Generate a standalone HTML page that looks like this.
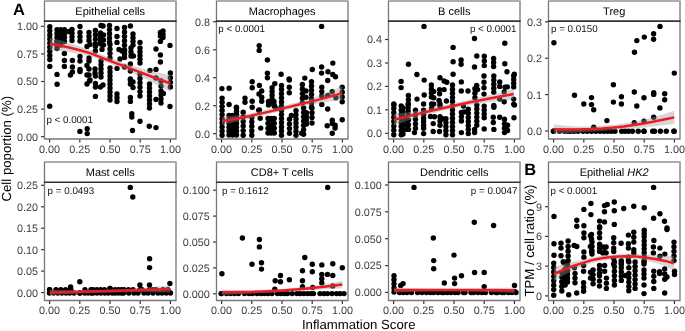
<!DOCTYPE html><html><head><meta charset="utf-8"><style>html,body{margin:0;padding:0;background:#fff;}svg{display:block;will-change:transform;}text{font-family:"Liberation Sans",sans-serif;text-rendering:geometricPrecision;}</style></head><body>
<svg width="685" height="331" viewBox="0 0 685 331" xmlns="http://www.w3.org/2000/svg">
<rect width="685" height="331" fill="#fff"/>
<text x="110.2" y="15.3" font-size="11" text-anchor="middle" fill="#000">Epithelial cells</text>
<g fill="#000"><circle cx="49.8" cy="26.70" r="2.7"/><circle cx="49.8" cy="30.80" r="2.7"/><circle cx="49.8" cy="34.90" r="2.7"/><circle cx="49.8" cy="39.00" r="2.7"/><circle cx="49.8" cy="43.10" r="2.7"/><circle cx="49.8" cy="47.20" r="2.7"/><circle cx="49.8" cy="51.30" r="2.7"/><circle cx="49.8" cy="55.40" r="2.7"/><circle cx="49.8" cy="59.50" r="2.7"/><circle cx="49.8" cy="66.4" r="2.7"/><rect x="57.00" y="29.70" width="7.50" height="11.80"/><circle cx="57.00" cy="29.70" r="2.7"/><circle cx="57.00" cy="33.63" r="2.7"/><circle cx="57.00" cy="37.57" r="2.7"/><circle cx="57.00" cy="41.50" r="2.7"/><circle cx="60.75" cy="29.70" r="2.7"/><circle cx="60.75" cy="41.50" r="2.7"/><circle cx="64.50" cy="29.70" r="2.7"/><circle cx="64.50" cy="33.63" r="2.7"/><circle cx="64.50" cy="37.57" r="2.7"/><circle cx="64.50" cy="41.50" r="2.7"/><circle cx="57.0" cy="41.50" r="2.7"/><circle cx="57.0" cy="45.00" r="2.7"/><circle cx="57.0" cy="48.50" r="2.7"/><circle cx="60.8" cy="41.50" r="2.7"/><circle cx="60.8" cy="45.00" r="2.7"/><circle cx="72.0" cy="29.50" r="2.7"/><circle cx="72.0" cy="33.17" r="2.7"/><circle cx="72.0" cy="36.83" r="2.7"/><circle cx="72.0" cy="40.50" r="2.7"/><circle cx="69.0" cy="31.5" r="2.7"/><circle cx="64.4" cy="53.5" r="2.7"/><circle cx="64.4" cy="60.50" r="2.7"/><circle cx="64.4" cy="66.40" r="2.7"/><circle cx="72.4" cy="60.5" r="2.7"/><circle cx="72.4" cy="67.00" r="2.7"/><circle cx="72.4" cy="72.00" r="2.7"/><circle cx="70.4" cy="75.0" r="2.7"/><circle cx="57.0" cy="74.4" r="2.7"/><circle cx="57.1" cy="84.2" r="2.7"/><circle cx="80.0" cy="26.5" r="2.7"/><circle cx="80.0" cy="32.50" r="2.7"/><circle cx="80.0" cy="36.75" r="2.7"/><circle cx="80.0" cy="41.00" r="2.7"/><circle cx="89.0" cy="32.50" r="2.7"/><circle cx="89.0" cy="36.45" r="2.7"/><circle cx="89.0" cy="40.40" r="2.7"/><circle cx="87.0" cy="46.4" r="2.7"/><circle cx="90.0" cy="44.4" r="2.7"/><circle cx="95.4" cy="30.50" r="2.7"/><circle cx="95.4" cy="34.80" r="2.7"/><circle cx="95.4" cy="39.10" r="2.7"/><circle cx="95.4" cy="43.40" r="2.7"/><circle cx="95.4" cy="46.40" r="2.7"/><circle cx="95.4" cy="51.00" r="2.7"/><circle cx="101.0" cy="25.5" r="2.7"/><circle cx="103.0" cy="26.0" r="2.7"/><circle cx="100.5" cy="33.00" r="2.7"/><circle cx="100.5" cy="36.67" r="2.7"/><circle cx="100.5" cy="40.33" r="2.7"/><circle cx="100.5" cy="44.00" r="2.7"/><circle cx="103.5" cy="35.00" r="2.7"/><circle cx="103.5" cy="40.00" r="2.7"/><circle cx="103.5" cy="45.00" r="2.7"/><circle cx="102.0" cy="49.4" r="2.7"/><circle cx="109.5" cy="25.50" r="2.7"/><circle cx="109.5" cy="29.62" r="2.7"/><circle cx="109.5" cy="33.75" r="2.7"/><circle cx="109.5" cy="37.88" r="2.7"/><circle cx="109.5" cy="42.00" r="2.7"/><circle cx="110.0" cy="44.40" r="2.7"/><circle cx="110.0" cy="48.93" r="2.7"/><circle cx="110.0" cy="53.47" r="2.7"/><circle cx="110.0" cy="58.00" r="2.7"/><circle cx="110.0" cy="68.00" r="2.7"/><circle cx="110.0" cy="72.00" r="2.7"/><circle cx="110.0" cy="76.00" r="2.7"/><circle cx="110.0" cy="80.00" r="2.7"/><circle cx="110.0" cy="84.00" r="2.7"/><circle cx="110.0" cy="88.00" r="2.7"/><circle cx="110.0" cy="92.00" r="2.7"/><circle cx="110.0" cy="96.00" r="2.7"/><circle cx="110.0" cy="100.00" r="2.7"/><circle cx="117.0" cy="28.5" r="2.7"/><circle cx="117.0" cy="36.50" r="2.7"/><circle cx="117.0" cy="42.40" r="2.7"/><circle cx="119.0" cy="49.5" r="2.7"/><circle cx="122.0" cy="51.0" r="2.7"/><circle cx="124.5" cy="51.0" r="2.7"/><circle cx="120.0" cy="59.0" r="2.7"/><circle cx="124.5" cy="57.5" r="2.7"/><circle cx="124.5" cy="27.50" r="2.7"/><circle cx="124.5" cy="31.92" r="2.7"/><circle cx="124.5" cy="36.33" r="2.7"/><circle cx="124.5" cy="40.75" r="2.7"/><circle cx="124.5" cy="45.17" r="2.7"/><circle cx="124.5" cy="49.58" r="2.7"/><circle cx="124.5" cy="54.00" r="2.7"/><circle cx="130.4" cy="26.0" r="2.7"/><circle cx="133.0" cy="34.00" r="2.7"/><circle cx="133.0" cy="37.67" r="2.7"/><circle cx="133.0" cy="41.33" r="2.7"/><circle cx="133.0" cy="45.00" r="2.7"/><circle cx="140.0" cy="42.4" r="2.7"/><circle cx="131.0" cy="48.00" r="2.7"/><circle cx="131.0" cy="52.00" r="2.7"/><circle cx="131.0" cy="56.00" r="2.7"/><circle cx="133.4" cy="56.0" r="2.7"/><circle cx="140.0" cy="48.00" r="2.7"/><circle cx="140.0" cy="51.75" r="2.7"/><circle cx="140.0" cy="55.50" r="2.7"/><circle cx="140.0" cy="59.25" r="2.7"/><circle cx="140.0" cy="63.00" r="2.7"/><circle cx="117.0" cy="68.4" r="2.7"/><circle cx="124.5" cy="67.0" r="2.7"/><circle cx="130.4" cy="64.0" r="2.7"/><circle cx="130.4" cy="71.0" r="2.7"/><circle cx="140.0" cy="74.00" r="2.7"/><circle cx="140.0" cy="78.40" r="2.7"/><circle cx="140.0" cy="82.80" r="2.7"/><circle cx="140.0" cy="87.20" r="2.7"/><circle cx="140.0" cy="91.60" r="2.7"/><circle cx="140.0" cy="96.00" r="2.7"/><circle cx="130.4" cy="79.0" r="2.7"/><circle cx="163.0" cy="31.0" r="2.7"/><circle cx="160.4" cy="32.5" r="2.7"/><circle cx="163.0" cy="34.5" r="2.7"/><circle cx="160.4" cy="36.0" r="2.7"/><circle cx="163.0" cy="37.5" r="2.7"/><circle cx="160.4" cy="41.4" r="2.7"/><circle cx="170.0" cy="45.4" r="2.7"/><circle cx="156.0" cy="49.0" r="2.7"/><circle cx="160.4" cy="55.0" r="2.7"/><circle cx="160.4" cy="62.0" r="2.7"/><circle cx="150.0" cy="70.4" r="2.7"/><circle cx="156.0" cy="69.4" r="2.7"/><circle cx="170.4" cy="73.00" r="2.7"/><circle cx="170.4" cy="77.67" r="2.7"/><circle cx="170.4" cy="82.33" r="2.7"/><circle cx="170.4" cy="87.00" r="2.7"/><circle cx="156.0" cy="78.0" r="2.7"/><circle cx="80.0" cy="56.50" r="2.7"/><circle cx="80.0" cy="61.00" r="2.7"/><circle cx="80.0" cy="69.50" r="2.7"/><circle cx="80.0" cy="71.50" r="2.7"/><circle cx="89.0" cy="58.00" r="2.7"/><circle cx="89.0" cy="61.00" r="2.7"/><circle cx="87.0" cy="65.5" r="2.7"/><circle cx="89.0" cy="69.00" r="2.7"/><circle cx="89.0" cy="75.00" r="2.7"/><circle cx="87.0" cy="75.0" r="2.7"/><circle cx="95.0" cy="69.00" r="2.7"/><circle cx="95.0" cy="73.00" r="2.7"/><circle cx="101.0" cy="61.00" r="2.7"/><circle cx="101.0" cy="65.00" r="2.7"/><circle cx="101.0" cy="69.00" r="2.7"/><circle cx="101.0" cy="73.00" r="2.7"/><circle cx="101.0" cy="77.00" r="2.7"/><circle cx="90.0" cy="80.0" r="2.7"/><circle cx="89.5" cy="81.0" r="2.7"/><circle cx="87.0" cy="84.0" r="2.7"/><circle cx="95.4" cy="76.0" r="2.7"/><circle cx="95.4" cy="83.50" r="2.7"/><circle cx="95.4" cy="87.00" r="2.7"/><circle cx="100.4" cy="87.0" r="2.7"/><circle cx="103.0" cy="85.0" r="2.7"/><circle cx="95.4" cy="96.4" r="2.7"/><circle cx="117.0" cy="94.00" r="2.7"/><circle cx="117.0" cy="97.75" r="2.7"/><circle cx="117.0" cy="101.50" r="2.7"/><circle cx="130.4" cy="80.0" r="2.7"/><circle cx="133.0" cy="82.0" r="2.7"/><circle cx="130.4" cy="84.0" r="2.7"/><circle cx="133.0" cy="87.5" r="2.7"/><circle cx="130.4" cy="97.40" r="2.7"/><circle cx="130.4" cy="101.40" r="2.7"/><circle cx="149.5" cy="84.00" r="2.7"/><circle cx="149.5" cy="88.00" r="2.7"/><circle cx="149.5" cy="92.00" r="2.7"/><circle cx="149.5" cy="96.00" r="2.7"/><circle cx="149.5" cy="100.00" r="2.7"/><circle cx="149.5" cy="104.00" r="2.7"/><circle cx="149.5" cy="108.00" r="2.7"/><circle cx="161.0" cy="81.00" r="2.7"/><circle cx="161.0" cy="86.00" r="2.7"/><circle cx="161.0" cy="91.00" r="2.7"/><circle cx="161.0" cy="95.00" r="2.7"/><circle cx="161.0" cy="99.00" r="2.7"/><circle cx="161.0" cy="103.00" r="2.7"/><circle cx="163.4" cy="93.4" r="2.7"/><circle cx="156.0" cy="99.4" r="2.7"/><circle cx="170.0" cy="106.5" r="2.7"/><circle cx="49.7" cy="106.2" r="2.7"/><circle cx="131.8" cy="113.8" r="2.7"/><circle cx="131.8" cy="117.0" r="2.7"/><circle cx="132.5" cy="130.5" r="2.7"/><circle cx="79.9" cy="131.4" r="2.7"/><circle cx="87.2" cy="128.7" r="2.7"/><circle cx="87.2" cy="133.6" r="2.7"/><circle cx="140.0" cy="121.3" r="2.7"/><circle cx="149.3" cy="126.3" r="2.7"/><circle cx="156.0" cy="127.6" r="2.7"/></g>
<path d="M49.8,37.7 L60.0,40.3 L70.0,43.2 L80.0,46.5 L90.0,49.9 L110.0,57.8 L130.0,65.1 L150.0,71.0 L170.4,75.0 L170.4,92.0 L150.0,81.0 L130.0,71.7 L110.0,63.8 L90.0,56.3 L80.0,53.9 L70.0,52.2 L60.0,50.9 L49.8,50.5Z" fill="#999" fill-opacity="0.4"/>
<path d="M49.8,44.1 L60.0,45.6 L70.0,47.7 L80.0,50.2 L90.0,53.1 L110.0,60.8 L130.0,68.4 L150.0,76.0 L170.4,83.5" fill="none" stroke="#ec1c24" stroke-width="2.5"/>
<path d="M44.5,139.0 L44.5,0.4 M176.0,0.4 L176.0,139.0 M43.9,139.0 L176.6,139.0" fill="none" stroke="#777777" stroke-width="1.3"/>
<line x1="45.1" y1="1.0" x2="175.4" y2="1.0" stroke="#909090" stroke-width="1.3"/>
<line x1="43.9" y1="21.1" x2="176.6" y2="21.1" stroke="#333" stroke-width="1.6"/>
<line x1="41.1" y1="136.7" x2="44.0" y2="136.7" stroke="#333" stroke-width="1.2"/>
<text x="37.9" y="140.6" font-size="10.8" text-anchor="end" fill="#3d3d3d">0.00</text>
<line x1="41.1" y1="109.1" x2="44.0" y2="109.1" stroke="#333" stroke-width="1.2"/>
<text x="37.9" y="113.0" font-size="10.8" text-anchor="end" fill="#3d3d3d">0.25</text>
<line x1="41.1" y1="81.5" x2="44.0" y2="81.5" stroke="#333" stroke-width="1.2"/>
<text x="37.9" y="85.4" font-size="10.8" text-anchor="end" fill="#3d3d3d">0.50</text>
<line x1="41.1" y1="53.9" x2="44.0" y2="53.9" stroke="#333" stroke-width="1.2"/>
<text x="37.9" y="57.8" font-size="10.8" text-anchor="end" fill="#3d3d3d">0.75</text>
<line x1="41.1" y1="26.3" x2="44.0" y2="26.3" stroke="#333" stroke-width="1.2"/>
<text x="37.9" y="30.2" font-size="10.8" text-anchor="end" fill="#3d3d3d">1.00</text>
<line x1="49.6" y1="139.5" x2="49.6" y2="142.6" stroke="#333" stroke-width="1.2"/>
<text x="49.6" y="152.6" font-size="10.8" text-anchor="middle" fill="#3d3d3d">0.00</text>
<line x1="79.8" y1="139.5" x2="79.8" y2="142.6" stroke="#333" stroke-width="1.2"/>
<text x="79.8" y="152.6" font-size="10.8" text-anchor="middle" fill="#3d3d3d">0.25</text>
<line x1="110.0" y1="139.5" x2="110.0" y2="142.6" stroke="#333" stroke-width="1.2"/>
<text x="110.0" y="152.6" font-size="10.8" text-anchor="middle" fill="#3d3d3d">0.50</text>
<line x1="140.2" y1="139.5" x2="140.2" y2="142.6" stroke="#333" stroke-width="1.2"/>
<text x="140.2" y="152.6" font-size="10.8" text-anchor="middle" fill="#3d3d3d">0.75</text>
<line x1="170.4" y1="139.5" x2="170.4" y2="142.6" stroke="#333" stroke-width="1.2"/>
<text x="170.4" y="152.6" font-size="10.8" text-anchor="middle" fill="#3d3d3d">1.00</text>
<text x="282.2" y="15.3" font-size="11" text-anchor="middle" fill="#000">Macrophages</text>
<g fill="#000"><circle cx="259.2" cy="45.6" r="2.7"/><circle cx="259.2" cy="50.4" r="2.7"/><circle cx="267.4" cy="59.9" r="2.7"/><circle cx="267.4" cy="73.1" r="2.7"/><circle cx="267.4" cy="77.7" r="2.7"/><circle cx="281.1" cy="74.2" r="2.7"/><circle cx="321.6" cy="26.4" r="2.7"/><circle cx="289.1" cy="79.0" r="2.7"/><circle cx="304.8" cy="78.1" r="2.7"/><circle cx="312.3" cy="69.5" r="2.7"/><circle cx="321.6" cy="67.0" r="2.7"/><circle cx="321.6" cy="73.1" r="2.7"/><circle cx="328.0" cy="71.8" r="2.7"/><circle cx="332.8" cy="63.1" r="2.7"/><circle cx="332.8" cy="74.5" r="2.7"/><circle cx="335.5" cy="76.7" r="2.7"/><circle cx="327.7" cy="80.5" r="2.7"/><circle cx="221.9" cy="88.6" r="2.7"/><circle cx="229.1" cy="88.2" r="2.7"/><circle cx="222.1" cy="98.10" r="2.7"/><circle cx="222.1" cy="102.22" r="2.7"/><circle cx="222.1" cy="106.34" r="2.7"/><circle cx="222.1" cy="110.47" r="2.7"/><circle cx="222.1" cy="114.59" r="2.7"/><circle cx="222.1" cy="118.71" r="2.7"/><circle cx="222.1" cy="122.83" r="2.7"/><circle cx="222.1" cy="126.96" r="2.7"/><circle cx="222.1" cy="131.08" r="2.7"/><circle cx="222.1" cy="135.20" r="2.7"/><circle cx="229.1" cy="104.5" r="2.7"/><circle cx="236.4" cy="107.2" r="2.7"/><rect x="229.00" y="115.50" width="7.50" height="19.50"/><circle cx="229.00" cy="115.50" r="2.7"/><circle cx="229.00" cy="119.40" r="2.7"/><circle cx="229.00" cy="123.30" r="2.7"/><circle cx="229.00" cy="127.20" r="2.7"/><circle cx="229.00" cy="131.10" r="2.7"/><circle cx="229.00" cy="135.00" r="2.7"/><circle cx="232.75" cy="115.50" r="2.7"/><circle cx="232.75" cy="135.00" r="2.7"/><circle cx="236.50" cy="115.50" r="2.7"/><circle cx="236.50" cy="119.40" r="2.7"/><circle cx="236.50" cy="123.30" r="2.7"/><circle cx="236.50" cy="127.20" r="2.7"/><circle cx="236.50" cy="131.10" r="2.7"/><circle cx="236.50" cy="135.00" r="2.7"/><circle cx="236.5" cy="108.00" r="2.7"/><circle cx="236.5" cy="111.50" r="2.7"/><circle cx="236.5" cy="115.00" r="2.7"/><circle cx="243.2" cy="112.20" r="2.7"/><circle cx="243.2" cy="116.80" r="2.7"/><circle cx="243.2" cy="121.40" r="2.7"/><circle cx="243.2" cy="126.00" r="2.7"/><circle cx="243.2" cy="130.60" r="2.7"/><circle cx="243.2" cy="135.20" r="2.7"/><circle cx="245.0" cy="98.1" r="2.7"/><circle cx="245.0" cy="102.2" r="2.7"/><circle cx="252.2" cy="81.8" r="2.7"/><circle cx="252.2" cy="87.7" r="2.7"/><circle cx="259.4" cy="85.4" r="2.7"/><circle cx="261.7" cy="90.9" r="2.7"/><circle cx="259.0" cy="94.0" r="2.7"/><circle cx="261.7" cy="97.2" r="2.7"/><circle cx="261.7" cy="101.3" r="2.7"/><circle cx="252.2" cy="101.3" r="2.7"/><circle cx="252.2" cy="107.2" r="2.7"/><circle cx="274.8" cy="83.6" r="2.7"/><circle cx="272.1" cy="87.70" r="2.7"/><circle cx="272.1" cy="91.45" r="2.7"/><circle cx="272.1" cy="95.20" r="2.7"/><circle cx="272.1" cy="98.95" r="2.7"/><circle cx="272.1" cy="102.70" r="2.7"/><rect x="268.50" y="101.50" width="5.50" height="3.50"/><circle cx="268.50" cy="101.50" r="2.7"/><circle cx="268.50" cy="105.00" r="2.7"/><circle cx="274.00" cy="101.50" r="2.7"/><circle cx="274.00" cy="105.00" r="2.7"/><circle cx="274.4" cy="106.3" r="2.7"/><circle cx="281.5" cy="85.40" r="2.7"/><circle cx="281.5" cy="89.55" r="2.7"/><circle cx="281.5" cy="93.70" r="2.7"/><circle cx="281.5" cy="97.85" r="2.7"/><circle cx="281.5" cy="102.00" r="2.7"/><circle cx="281.5" cy="106.15" r="2.7"/><circle cx="281.5" cy="110.30" r="2.7"/><circle cx="281.5" cy="114.45" r="2.7"/><circle cx="281.5" cy="118.60" r="2.7"/><circle cx="281.5" cy="122.75" r="2.7"/><circle cx="281.5" cy="126.90" r="2.7"/><circle cx="281.5" cy="131.05" r="2.7"/><circle cx="281.5" cy="135.20" r="2.7"/><circle cx="259.4" cy="110.0" r="2.7"/><circle cx="251.8" cy="117.40" r="2.7"/><circle cx="251.8" cy="121.85" r="2.7"/><circle cx="251.8" cy="126.30" r="2.7"/><circle cx="251.8" cy="130.75" r="2.7"/><circle cx="251.8" cy="135.20" r="2.7"/><circle cx="258.8" cy="110.3" r="2.7"/><circle cx="260.2" cy="118.3" r="2.7"/><circle cx="260.7" cy="128.1" r="2.7"/><rect x="268.00" y="118.50" width="6.30" height="14.50"/><circle cx="268.00" cy="118.50" r="2.7"/><circle cx="268.00" cy="123.33" r="2.7"/><circle cx="268.00" cy="128.17" r="2.7"/><circle cx="268.00" cy="133.00" r="2.7"/><circle cx="271.15" cy="118.50" r="2.7"/><circle cx="271.15" cy="133.00" r="2.7"/><circle cx="274.30" cy="118.50" r="2.7"/><circle cx="274.30" cy="123.33" r="2.7"/><circle cx="274.30" cy="128.17" r="2.7"/><circle cx="274.30" cy="133.00" r="2.7"/><circle cx="276.2" cy="108.5" r="2.7"/><circle cx="289.3" cy="80.0" r="2.7"/><circle cx="289.3" cy="87.30" r="2.7"/><circle cx="289.3" cy="92.70" r="2.7"/><circle cx="302.4" cy="84.50" r="2.7"/><circle cx="302.4" cy="89.05" r="2.7"/><circle cx="302.4" cy="93.60" r="2.7"/><circle cx="302.4" cy="98.15" r="2.7"/><circle cx="302.4" cy="102.70" r="2.7"/><circle cx="306.0" cy="90.90" r="2.7"/><circle cx="306.0" cy="97.20" r="2.7"/><circle cx="311.5" cy="81.80" r="2.7"/><circle cx="311.5" cy="86.03" r="2.7"/><circle cx="311.5" cy="90.27" r="2.7"/><circle cx="311.5" cy="94.50" r="2.7"/><circle cx="311.5" cy="98.73" r="2.7"/><circle cx="311.5" cy="102.97" r="2.7"/><circle cx="311.5" cy="107.20" r="2.7"/><circle cx="289.5" cy="119.20" r="2.7"/><circle cx="289.5" cy="123.90" r="2.7"/><circle cx="289.5" cy="128.60" r="2.7"/><circle cx="289.5" cy="133.30" r="2.7"/><circle cx="291.4" cy="115.5" r="2.7"/><circle cx="296.0" cy="110.80" r="2.7"/><circle cx="296.0" cy="114.87" r="2.7"/><circle cx="296.0" cy="118.93" r="2.7"/><circle cx="296.0" cy="123.00" r="2.7"/><circle cx="296.0" cy="127.07" r="2.7"/><circle cx="296.0" cy="131.13" r="2.7"/><circle cx="296.0" cy="135.20" r="2.7"/><circle cx="303.6" cy="108.00" r="2.7"/><circle cx="303.6" cy="112.37" r="2.7"/><circle cx="303.6" cy="116.73" r="2.7"/><circle cx="303.6" cy="121.10" r="2.7"/><circle cx="303.6" cy="125.47" r="2.7"/><circle cx="303.6" cy="129.83" r="2.7"/><circle cx="303.6" cy="134.20" r="2.7"/><circle cx="301.7" cy="133.3" r="2.7"/><circle cx="306.4" cy="112.70" r="2.7"/><circle cx="306.4" cy="116.47" r="2.7"/><circle cx="306.4" cy="120.23" r="2.7"/><circle cx="306.4" cy="124.00" r="2.7"/><circle cx="312.0" cy="108.00" r="2.7"/><circle cx="312.0" cy="112.70" r="2.7"/><circle cx="312.0" cy="117.40" r="2.7"/><circle cx="312.0" cy="123.0" r="2.7"/><circle cx="321.8" cy="87.30" r="2.7"/><circle cx="321.8" cy="91.60" r="2.7"/><circle cx="321.8" cy="95.90" r="2.7"/><circle cx="321.8" cy="104.5" r="2.7"/><circle cx="327.7" cy="95.4" r="2.7"/><circle cx="332.2" cy="91.8" r="2.7"/><circle cx="335.9" cy="97.7" r="2.7"/><circle cx="327.7" cy="109.0" r="2.7"/><circle cx="342.2" cy="87.30" r="2.7"/><circle cx="342.2" cy="92.13" r="2.7"/><circle cx="342.2" cy="96.97" r="2.7"/><circle cx="342.2" cy="101.80" r="2.7"/><circle cx="332.3" cy="120.2" r="2.7"/><circle cx="332.3" cy="123.5" r="2.7"/><circle cx="335.1" cy="125.3" r="2.7"/><circle cx="335.1" cy="128.1" r="2.7"/><circle cx="327.2" cy="125.8" r="2.7"/><circle cx="332.3" cy="133.3" r="2.7"/><circle cx="342.2" cy="119.7" r="2.7"/></g>
<path d="M222.1,117.1 L235.0,115.7 L249.0,113.5 L265.0,110.1 L282.0,106.1 L298.0,102.1 L315.0,97.3 L330.0,91.6 L342.2,86.2 L342.2,100.0 L330.0,101.6 L315.0,103.9 L298.0,107.5 L282.0,111.1 L265.0,115.1 L249.0,118.9 L235.0,122.1 L222.1,125.1Z" fill="#999" fill-opacity="0.4"/>
<path d="M222.1,121.1 L235.0,118.9 L249.0,116.2 L265.0,112.6 L282.0,108.6 L298.0,104.8 L315.0,100.6 L330.0,96.6 L342.2,93.1" fill="none" stroke="#ec1c24" stroke-width="2.5"/>
<path d="M216.5,139.0 L216.5,0.4 M348.0,0.4 L348.0,139.0 M215.9,139.0 L348.6,139.0" fill="none" stroke="#777777" stroke-width="1.3"/>
<line x1="217.1" y1="1.0" x2="347.4" y2="1.0" stroke="#909090" stroke-width="1.3"/>
<line x1="215.9" y1="21.1" x2="348.6" y2="21.1" stroke="#333" stroke-width="1.6"/>
<line x1="213.1" y1="133.6" x2="216.0" y2="133.6" stroke="#333" stroke-width="1.2"/>
<text x="209.9" y="137.5" font-size="10.8" text-anchor="end" fill="#3d3d3d">0.0</text>
<line x1="213.1" y1="105.7" x2="216.0" y2="105.7" stroke="#333" stroke-width="1.2"/>
<text x="209.9" y="109.6" font-size="10.8" text-anchor="end" fill="#3d3d3d">0.2</text>
<line x1="213.1" y1="77.7" x2="216.0" y2="77.7" stroke="#333" stroke-width="1.2"/>
<text x="209.9" y="81.6" font-size="10.8" text-anchor="end" fill="#3d3d3d">0.4</text>
<line x1="213.1" y1="49.8" x2="216.0" y2="49.8" stroke="#333" stroke-width="1.2"/>
<text x="209.9" y="53.6" font-size="10.8" text-anchor="end" fill="#3d3d3d">0.6</text>
<line x1="213.1" y1="21.8" x2="216.0" y2="21.8" stroke="#333" stroke-width="1.2"/>
<text x="209.9" y="25.7" font-size="10.8" text-anchor="end" fill="#3d3d3d">0.8</text>
<line x1="221.6" y1="139.5" x2="221.6" y2="142.6" stroke="#333" stroke-width="1.2"/>
<text x="221.6" y="152.6" font-size="10.8" text-anchor="middle" fill="#3d3d3d">0.00</text>
<line x1="251.8" y1="139.5" x2="251.8" y2="142.6" stroke="#333" stroke-width="1.2"/>
<text x="251.8" y="152.6" font-size="10.8" text-anchor="middle" fill="#3d3d3d">0.25</text>
<line x1="282.0" y1="139.5" x2="282.0" y2="142.6" stroke="#333" stroke-width="1.2"/>
<text x="282.0" y="152.6" font-size="10.8" text-anchor="middle" fill="#3d3d3d">0.50</text>
<line x1="312.2" y1="139.5" x2="312.2" y2="142.6" stroke="#333" stroke-width="1.2"/>
<text x="312.2" y="152.6" font-size="10.8" text-anchor="middle" fill="#3d3d3d">0.75</text>
<line x1="342.4" y1="139.5" x2="342.4" y2="142.6" stroke="#333" stroke-width="1.2"/>
<text x="342.4" y="152.6" font-size="10.8" text-anchor="middle" fill="#3d3d3d">1.00</text>
<text x="454.2" y="15.3" font-size="11" text-anchor="middle" fill="#000">B cells</text>
<g fill="#000"><circle cx="424.0" cy="26.4" r="2.7"/><circle cx="408.5" cy="64.3" r="2.7"/><circle cx="416.9" cy="74.5" r="2.7"/><circle cx="453.1" cy="47.4" r="2.7"/><circle cx="453.1" cy="61.7" r="2.7"/><circle cx="453.1" cy="74.2" r="2.7"/><circle cx="474.5" cy="38.5" r="2.7"/><circle cx="504.8" cy="43.3" r="2.7"/><circle cx="461.1" cy="59.9" r="2.7"/><circle cx="461.1" cy="64.2" r="2.7"/><circle cx="476.8" cy="56.0" r="2.7"/><circle cx="474.5" cy="67.0" r="2.7"/><circle cx="484.3" cy="56.30" r="2.7"/><circle cx="484.3" cy="60.95" r="2.7"/><circle cx="484.3" cy="65.60" r="2.7"/><circle cx="493.6" cy="58.50" r="2.7"/><circle cx="493.6" cy="62.50" r="2.7"/><circle cx="493.6" cy="66.50" r="2.7"/><circle cx="504.8" cy="63.8" r="2.7"/><circle cx="507.0" cy="71.8" r="2.7"/><circle cx="514.3" cy="74.2" r="2.7"/><circle cx="401.1" cy="81.4" r="2.7"/><circle cx="401.1" cy="87.6" r="2.7"/><circle cx="408.4" cy="95.50" r="2.7"/><circle cx="408.4" cy="99.80" r="2.7"/><circle cx="408.4" cy="104.10" r="2.7"/><circle cx="417.0" cy="99.1" r="2.7"/><circle cx="393.9" cy="105.0" r="2.7"/><circle cx="393.8" cy="104.00" r="2.7"/><circle cx="393.8" cy="108.39" r="2.7"/><circle cx="393.8" cy="112.77" r="2.7"/><circle cx="393.8" cy="117.16" r="2.7"/><circle cx="393.8" cy="121.54" r="2.7"/><circle cx="393.8" cy="125.93" r="2.7"/><circle cx="393.8" cy="130.31" r="2.7"/><circle cx="393.8" cy="134.70" r="2.7"/><circle cx="401.2" cy="106.00" r="2.7"/><circle cx="401.2" cy="110.10" r="2.7"/><circle cx="401.2" cy="114.20" r="2.7"/><circle cx="401.2" cy="118.30" r="2.7"/><circle cx="401.2" cy="122.40" r="2.7"/><circle cx="401.2" cy="126.50" r="2.7"/><circle cx="401.2" cy="130.60" r="2.7"/><circle cx="401.2" cy="134.70" r="2.7"/><circle cx="403.0" cy="108.00" r="2.7"/><circle cx="403.0" cy="112.33" r="2.7"/><circle cx="403.0" cy="116.67" r="2.7"/><circle cx="403.0" cy="121.00" r="2.7"/><circle cx="403.0" cy="125.33" r="2.7"/><circle cx="403.0" cy="129.67" r="2.7"/><circle cx="403.0" cy="134.00" r="2.7"/><circle cx="408.1" cy="104.00" r="2.7"/><circle cx="408.1" cy="107.53" r="2.7"/><circle cx="408.1" cy="111.07" r="2.7"/><circle cx="408.1" cy="114.60" r="2.7"/><circle cx="406.8" cy="120.00" r="2.7"/><circle cx="406.8" cy="124.70" r="2.7"/><circle cx="406.8" cy="129.40" r="2.7"/><circle cx="408.5" cy="120.00" r="2.7"/><circle cx="408.5" cy="124.70" r="2.7"/><circle cx="408.5" cy="129.40" r="2.7"/><circle cx="415.5" cy="110.30" r="2.7"/><circle cx="415.5" cy="114.80" r="2.7"/><circle cx="415.5" cy="119.30" r="2.7"/><circle cx="415.5" cy="123.80" r="2.7"/><circle cx="415.5" cy="128.30" r="2.7"/><circle cx="414.5" cy="132.6" r="2.7"/><circle cx="424.2" cy="80.1" r="2.7"/><circle cx="424.2" cy="95.0" r="2.7"/><circle cx="440.0" cy="77.8" r="2.7"/><circle cx="444.1" cy="81.0" r="2.7"/><circle cx="446.8" cy="82.3" r="2.7"/><circle cx="431.4" cy="85.00" r="2.7"/><circle cx="431.4" cy="88.97" r="2.7"/><circle cx="431.4" cy="92.93" r="2.7"/><circle cx="431.4" cy="96.90" r="2.7"/><circle cx="433.7" cy="91.4" r="2.7"/><circle cx="439.6" cy="89.6" r="2.7"/><circle cx="444.1" cy="89.6" r="2.7"/><circle cx="439.6" cy="93.7" r="2.7"/><circle cx="433.7" cy="97.8" r="2.7"/><circle cx="439.1" cy="100.5" r="2.7"/><circle cx="446.4" cy="101.0" r="2.7"/><circle cx="433.7" cy="104.1" r="2.7"/><circle cx="452.5" cy="85.00" r="2.7"/><circle cx="452.5" cy="89.14" r="2.7"/><circle cx="452.5" cy="93.28" r="2.7"/><circle cx="452.5" cy="97.42" r="2.7"/><circle cx="452.5" cy="101.57" r="2.7"/><circle cx="452.5" cy="105.71" r="2.7"/><circle cx="452.5" cy="109.85" r="2.7"/><circle cx="452.5" cy="113.99" r="2.7"/><circle cx="452.5" cy="118.13" r="2.7"/><circle cx="452.5" cy="122.27" r="2.7"/><circle cx="452.5" cy="126.42" r="2.7"/><circle cx="452.5" cy="130.56" r="2.7"/><circle cx="452.5" cy="134.70" r="2.7"/><circle cx="423.6" cy="104.00" r="2.7"/><circle cx="423.6" cy="110.30" r="2.7"/><circle cx="423.6" cy="114.60" r="2.7"/><circle cx="423.6" cy="118.13" r="2.7"/><circle cx="423.6" cy="121.67" r="2.7"/><circle cx="423.6" cy="125.20" r="2.7"/><circle cx="423.6" cy="128.30" r="2.7"/><circle cx="423.6" cy="133.60" r="2.7"/><circle cx="431.6" cy="104.00" r="2.7"/><circle cx="431.6" cy="108.20" r="2.7"/><circle cx="430.5" cy="116.5" r="2.7"/><circle cx="434.5" cy="116.8" r="2.7"/><circle cx="433.2" cy="123.6" r="2.7"/><circle cx="433.2" cy="131.5" r="2.7"/><circle cx="440.0" cy="116.70" r="2.7"/><circle cx="440.0" cy="120.95" r="2.7"/><circle cx="440.0" cy="125.20" r="2.7"/><circle cx="439.5" cy="131.5" r="2.7"/><circle cx="445.9" cy="118.80" r="2.7"/><circle cx="445.9" cy="122.77" r="2.7"/><circle cx="445.9" cy="126.75" r="2.7"/><circle cx="445.9" cy="130.72" r="2.7"/><circle cx="445.9" cy="134.70" r="2.7"/><circle cx="442.2" cy="118.8" r="2.7"/><circle cx="440.0" cy="104.00" r="2.7"/><circle cx="440.0" cy="106.00" r="2.7"/><circle cx="461.3" cy="81.9" r="2.7"/><circle cx="461.3" cy="91.0" r="2.7"/><circle cx="468.0" cy="91.0" r="2.7"/><circle cx="476.7" cy="85.5" r="2.7"/><circle cx="474.9" cy="88.70" r="2.7"/><circle cx="474.9" cy="93.25" r="2.7"/><circle cx="474.9" cy="97.80" r="2.7"/><circle cx="477.6" cy="89.6" r="2.7"/><circle cx="484.0" cy="76.00" r="2.7"/><circle cx="484.0" cy="82.30" r="2.7"/><circle cx="484.0" cy="87.80" r="2.7"/><circle cx="484.0" cy="94.10" r="2.7"/><circle cx="461.4" cy="112.50" r="2.7"/><circle cx="461.4" cy="116.75" r="2.7"/><circle cx="461.4" cy="121.00" r="2.7"/><circle cx="464.0" cy="112.0" r="2.7"/><circle cx="461.4" cy="132.6" r="2.7"/><circle cx="468.3" cy="109.30" r="2.7"/><circle cx="468.3" cy="113.35" r="2.7"/><circle cx="468.3" cy="117.40" r="2.7"/><circle cx="468.3" cy="121.45" r="2.7"/><circle cx="468.3" cy="125.50" r="2.7"/><circle cx="468.3" cy="129.55" r="2.7"/><circle cx="468.3" cy="133.60" r="2.7"/><circle cx="474.6" cy="129.40" r="2.7"/><circle cx="474.6" cy="132.60" r="2.7"/><circle cx="476.8" cy="105.00" r="2.7"/><circle cx="476.8" cy="109.04" r="2.7"/><circle cx="476.8" cy="113.08" r="2.7"/><circle cx="476.8" cy="117.12" r="2.7"/><circle cx="476.8" cy="121.16" r="2.7"/><circle cx="476.8" cy="125.20" r="2.7"/><circle cx="484.2" cy="106.10" r="2.7"/><circle cx="484.2" cy="110.00" r="2.7"/><circle cx="484.2" cy="113.90" r="2.7"/><circle cx="484.2" cy="117.80" r="2.7"/><circle cx="484.2" cy="128.9" r="2.7"/><circle cx="463.5" cy="106.1" r="2.7"/><circle cx="493.8" cy="76.00" r="2.7"/><circle cx="493.8" cy="80.08" r="2.7"/><circle cx="493.8" cy="84.15" r="2.7"/><circle cx="493.8" cy="88.22" r="2.7"/><circle cx="493.8" cy="92.30" r="2.7"/><circle cx="499.7" cy="81.9" r="2.7"/><circle cx="499.7" cy="86.4" r="2.7"/><circle cx="505.1" cy="87.3" r="2.7"/><circle cx="507.4" cy="86.9" r="2.7"/><circle cx="504.2" cy="91.9" r="2.7"/><circle cx="499.7" cy="99.1" r="2.7"/><circle cx="504.2" cy="101.8" r="2.7"/><circle cx="513.7" cy="76.0" r="2.7"/><circle cx="513.7" cy="79.60" r="2.7"/><circle cx="513.7" cy="83.25" r="2.7"/><circle cx="513.7" cy="86.90" r="2.7"/><circle cx="513.7" cy="99.1" r="2.7"/><circle cx="513.7" cy="104.1" r="2.7"/><circle cx="493.8" cy="105.5" r="2.7"/><circle cx="493.9" cy="107.2" r="2.7"/><circle cx="514.5" cy="105.1" r="2.7"/><circle cx="493.3" cy="117.20" r="2.7"/><circle cx="493.3" cy="122.50" r="2.7"/><circle cx="499.7" cy="117.2" r="2.7"/><circle cx="504.5" cy="119.30" r="2.7"/><circle cx="504.5" cy="123.73" r="2.7"/><circle cx="504.5" cy="128.17" r="2.7"/><circle cx="504.5" cy="132.60" r="2.7"/><circle cx="507.6" cy="125.2" r="2.7"/><circle cx="507.6" cy="130.5" r="2.7"/><circle cx="514.0" cy="117.8" r="2.7"/><circle cx="493.9" cy="129.4" r="2.7"/></g>
<path d="M393.8,114.1 L407.0,112.4 L421.0,109.9 L437.0,106.8 L454.0,103.1 L470.0,99.4 L487.0,95.8 L500.0,92.4 L513.7,88.9 L513.7,99.3 L500.0,100.8 L487.0,102.4 L470.0,105.0 L454.0,108.3 L437.0,112.2 L421.0,116.3 L407.0,120.8 L393.8,125.7Z" fill="#999" fill-opacity="0.4"/>
<path d="M393.8,119.9 L407.0,116.6 L421.0,113.1 L437.0,109.5 L454.0,105.7 L470.0,102.2 L487.0,99.1 L500.0,96.6 L513.7,94.1" fill="none" stroke="#ec1c24" stroke-width="2.5"/>
<path d="M388.5,139.0 L388.5,0.4 M520.0,0.4 L520.0,139.0 M387.9,139.0 L520.6,139.0" fill="none" stroke="#777777" stroke-width="1.3"/>
<line x1="389.1" y1="1.0" x2="519.4" y2="1.0" stroke="#909090" stroke-width="1.3"/>
<line x1="387.9" y1="21.1" x2="520.6" y2="21.1" stroke="#333" stroke-width="1.6"/>
<line x1="385.1" y1="133.3" x2="388.0" y2="133.3" stroke="#333" stroke-width="1.2"/>
<text x="381.9" y="137.2" font-size="10.8" text-anchor="end" fill="#3d3d3d">0.0</text>
<line x1="385.1" y1="109.8" x2="388.0" y2="109.8" stroke="#333" stroke-width="1.2"/>
<text x="381.9" y="113.8" font-size="10.8" text-anchor="end" fill="#3d3d3d">0.1</text>
<line x1="385.1" y1="86.4" x2="388.0" y2="86.4" stroke="#333" stroke-width="1.2"/>
<text x="381.9" y="90.3" font-size="10.8" text-anchor="end" fill="#3d3d3d">0.2</text>
<line x1="385.1" y1="63.0" x2="388.0" y2="63.0" stroke="#333" stroke-width="1.2"/>
<text x="381.9" y="66.9" font-size="10.8" text-anchor="end" fill="#3d3d3d">0.3</text>
<line x1="385.1" y1="39.5" x2="388.0" y2="39.5" stroke="#333" stroke-width="1.2"/>
<text x="381.9" y="43.4" font-size="10.8" text-anchor="end" fill="#3d3d3d">0.4</text>
<line x1="393.6" y1="139.5" x2="393.6" y2="142.6" stroke="#333" stroke-width="1.2"/>
<text x="393.6" y="152.6" font-size="10.8" text-anchor="middle" fill="#3d3d3d">0.00</text>
<line x1="423.8" y1="139.5" x2="423.8" y2="142.6" stroke="#333" stroke-width="1.2"/>
<text x="423.8" y="152.6" font-size="10.8" text-anchor="middle" fill="#3d3d3d">0.25</text>
<line x1="454.0" y1="139.5" x2="454.0" y2="142.6" stroke="#333" stroke-width="1.2"/>
<text x="454.0" y="152.6" font-size="10.8" text-anchor="middle" fill="#3d3d3d">0.50</text>
<line x1="484.2" y1="139.5" x2="484.2" y2="142.6" stroke="#333" stroke-width="1.2"/>
<text x="484.2" y="152.6" font-size="10.8" text-anchor="middle" fill="#3d3d3d">0.75</text>
<line x1="514.4" y1="139.5" x2="514.4" y2="142.6" stroke="#333" stroke-width="1.2"/>
<text x="514.4" y="152.6" font-size="10.8" text-anchor="middle" fill="#3d3d3d">1.00</text>
<text x="614.2" y="15.3" font-size="11" text-anchor="middle" fill="#000">Treg</text>
<g fill="#000"><circle cx="553.9" cy="42.8" r="2.7"/><circle cx="660.0" cy="26.4" r="2.7"/><circle cx="653.6" cy="33.8" r="2.7"/><circle cx="653.6" cy="39.2" r="2.7"/><circle cx="644.3" cy="37.1" r="2.7"/><circle cx="636.8" cy="40.6" r="2.7"/><circle cx="634.5" cy="52.2" r="2.7"/><circle cx="674.3" cy="73.1" r="2.7"/><circle cx="574.5" cy="95.3" r="2.7"/><circle cx="583.8" cy="104.0" r="2.7"/><circle cx="591.5" cy="97.6" r="2.7"/><circle cx="591.5" cy="104.6" r="2.7"/><circle cx="593.7" cy="109.8" r="2.7"/><circle cx="606.9" cy="120.6" r="2.7"/><circle cx="613.4" cy="84.7" r="2.7"/><circle cx="613.4" cy="102.1" r="2.7"/><circle cx="593.7" cy="127.2" r="2.7"/><circle cx="621.4" cy="96.7" r="2.7"/><circle cx="621.4" cy="104.0" r="2.7"/><circle cx="634.3" cy="92.0" r="2.7"/><circle cx="636.8" cy="106.0" r="2.7"/><circle cx="644.0" cy="97.8" r="2.7"/><circle cx="653.7" cy="92.8" r="2.7"/><circle cx="653.7" cy="94.4" r="2.7"/><circle cx="664.7" cy="93.8" r="2.7"/><circle cx="664.7" cy="99.8" r="2.7"/><circle cx="659.9" cy="107.9" r="2.7"/><circle cx="653.7" cy="117.2" r="2.7"/><circle cx="644.0" cy="121.1" r="2.7"/><circle cx="634.3" cy="122.8" r="2.7"/><circle cx="553.50" cy="131.2" r="2.7"/><circle cx="553.50" cy="131.2" r="2.7"/><circle cx="559.50" cy="131.2" r="2.7"/><circle cx="564.50" cy="131.2" r="2.7"/><circle cx="568.00" cy="131.2" r="2.7"/><circle cx="570.50" cy="131.2" r="2.7"/><circle cx="574.00" cy="131.2" r="2.7"/><circle cx="578.00" cy="131.2" r="2.7"/><circle cx="583.00" cy="131.2" r="2.7"/><circle cx="587.25" cy="131.2" r="2.7"/><circle cx="591.50" cy="131.2" r="2.7"/><circle cx="595.75" cy="131.2" r="2.7"/><circle cx="600.00" cy="131.2" r="2.7"/><circle cx="604.00" cy="131.2" r="2.7"/><circle cx="607.67" cy="131.2" r="2.7"/><circle cx="611.33" cy="131.2" r="2.7"/><circle cx="615.00" cy="131.2" r="2.7"/><circle cx="621.70" cy="131.2" r="2.7"/><circle cx="625.10" cy="131.2" r="2.7"/><circle cx="628.50" cy="131.2" r="2.7"/><circle cx="632.40" cy="131.2" r="2.7"/><circle cx="638.20" cy="131.2" r="2.7"/><circle cx="644.00" cy="131.2" r="2.7"/><circle cx="644.00" cy="131.2" r="2.7"/><circle cx="652.70" cy="131.2" r="2.7"/><circle cx="654.60" cy="131.2" r="2.7"/><circle cx="660.40" cy="131.2" r="2.7"/><circle cx="666.30" cy="131.2" r="2.7"/><circle cx="674.00" cy="131.2" r="2.7"/><circle cx="674.00" cy="131.2" r="2.7"/></g>
<path d="M553.8,124.6 L565.0,125.8 L577.0,126.5 L590.0,126.4 L602.0,125.8 L614.0,124.7 L624.0,123.5 L634.0,121.8 L644.0,119.6 L654.0,117.0 L664.0,114.1 L674.3,110.8 L674.3,124.0 L664.0,125.1 L654.0,126.2 L644.0,127.4 L634.0,128.4 L624.0,129.3 L614.0,130.1 L602.0,131.0 L590.0,131.8 L577.0,132.5 L565.0,133.2 L553.8,134.0Z" fill="#999" fill-opacity="0.4"/>
<path d="M553.8,129.3 L565.0,129.5 L577.0,129.5 L590.0,129.1 L602.0,128.4 L614.0,127.4 L624.0,126.4 L634.0,125.1 L644.0,123.5 L654.0,121.6 L664.0,119.6 L674.3,117.4" fill="none" stroke="#ec1c24" stroke-width="2.5"/>
<path d="M548.5,139.0 L548.5,0.4 M680.0,0.4 L680.0,139.0 M547.9,139.0 L680.6,139.0" fill="none" stroke="#777777" stroke-width="1.3"/>
<line x1="549.1" y1="1.0" x2="679.4" y2="1.0" stroke="#909090" stroke-width="1.3"/>
<line x1="547.9" y1="21.1" x2="680.6" y2="21.1" stroke="#333" stroke-width="1.6"/>
<line x1="545.1" y1="131.0" x2="548.0" y2="131.0" stroke="#333" stroke-width="1.2"/>
<text x="541.9" y="134.9" font-size="10.8" text-anchor="end" fill="#3d3d3d">0.0</text>
<line x1="545.1" y1="94.6" x2="548.0" y2="94.6" stroke="#333" stroke-width="1.2"/>
<text x="541.9" y="98.5" font-size="10.8" text-anchor="end" fill="#3d3d3d">0.1</text>
<line x1="545.1" y1="58.2" x2="548.0" y2="58.2" stroke="#333" stroke-width="1.2"/>
<text x="541.9" y="62.1" font-size="10.8" text-anchor="end" fill="#3d3d3d">0.2</text>
<line x1="545.1" y1="21.8" x2="548.0" y2="21.8" stroke="#333" stroke-width="1.2"/>
<text x="541.9" y="25.7" font-size="10.8" text-anchor="end" fill="#3d3d3d">0.3</text>
<line x1="553.6" y1="139.5" x2="553.6" y2="142.6" stroke="#333" stroke-width="1.2"/>
<text x="553.6" y="152.6" font-size="10.8" text-anchor="middle" fill="#3d3d3d">0.00</text>
<line x1="583.8" y1="139.5" x2="583.8" y2="142.6" stroke="#333" stroke-width="1.2"/>
<text x="583.8" y="152.6" font-size="10.8" text-anchor="middle" fill="#3d3d3d">0.25</text>
<line x1="614.0" y1="139.5" x2="614.0" y2="142.6" stroke="#333" stroke-width="1.2"/>
<text x="614.0" y="152.6" font-size="10.8" text-anchor="middle" fill="#3d3d3d">0.50</text>
<line x1="644.2" y1="139.5" x2="644.2" y2="142.6" stroke="#333" stroke-width="1.2"/>
<text x="644.2" y="152.6" font-size="10.8" text-anchor="middle" fill="#3d3d3d">0.75</text>
<line x1="674.4" y1="139.5" x2="674.4" y2="142.6" stroke="#333" stroke-width="1.2"/>
<text x="674.4" y="152.6" font-size="10.8" text-anchor="middle" fill="#3d3d3d">1.00</text>
<text x="110.2" y="176.3" font-size="11" text-anchor="middle" fill="#000">Mast cells</text>
<g fill="#000"><circle cx="130.3" cy="187.4" r="2.7"/><circle cx="132.8" cy="197.0" r="2.7"/><circle cx="149.6" cy="258.7" r="2.7"/><circle cx="149.6" cy="267.6" r="2.7"/><circle cx="79.8" cy="281.8" r="2.7"/><circle cx="49.50" cy="293.0" r="2.7"/><circle cx="53.62" cy="293.0" r="2.7"/><circle cx="57.75" cy="293.0" r="2.7"/><circle cx="61.88" cy="293.0" r="2.7"/><circle cx="66.00" cy="293.0" r="2.7"/><circle cx="69.70" cy="293.0" r="2.7"/><circle cx="74.00" cy="293.0" r="2.7"/><circle cx="79.70" cy="293.0" r="2.7"/><circle cx="80.00" cy="293.0" r="2.7"/><circle cx="84.70" cy="293.0" r="2.7"/><circle cx="88.05" cy="293.0" r="2.7"/><circle cx="91.40" cy="293.0" r="2.7"/><circle cx="93.00" cy="293.0" r="2.7"/><circle cx="96.93" cy="293.0" r="2.7"/><circle cx="100.87" cy="293.0" r="2.7"/><circle cx="104.80" cy="293.0" r="2.7"/><circle cx="108.20" cy="293.0" r="2.7"/><circle cx="112.20" cy="293.0" r="2.7"/><circle cx="115.00" cy="293.0" r="2.7"/><circle cx="118.30" cy="293.0" r="2.7"/><circle cx="121.60" cy="293.0" r="2.7"/><circle cx="123.60" cy="293.0" r="2.7"/><circle cx="128.80" cy="293.0" r="2.7"/><circle cx="134.00" cy="293.0" r="2.7"/><circle cx="138.00" cy="293.0" r="2.7"/><circle cx="144.00" cy="293.0" r="2.7"/><circle cx="148.00" cy="293.0" r="2.7"/><circle cx="153.00" cy="293.0" r="2.7"/><circle cx="158.00" cy="293.0" r="2.7"/><circle cx="162.00" cy="293.0" r="2.7"/><circle cx="166.25" cy="293.0" r="2.7"/><circle cx="170.50" cy="293.0" r="2.7"/><circle cx="49.60" cy="289.6" r="2.7"/><circle cx="49.60" cy="289.6" r="2.7"/><circle cx="56.00" cy="289.8" r="2.7"/><circle cx="60.80" cy="289.8" r="2.7"/><circle cx="65.60" cy="289.8" r="2.7"/><circle cx="70.60" cy="289.5" r="2.7"/><circle cx="70.60" cy="289.5" r="2.7"/><circle cx="85.00" cy="289.8" r="2.7"/><circle cx="91.00" cy="289.8" r="2.7"/><circle cx="93.00" cy="289.8" r="2.7"/><circle cx="96.83" cy="289.8" r="2.7"/><circle cx="100.67" cy="289.8" r="2.7"/><circle cx="104.50" cy="289.8" r="2.7"/><circle cx="110.00" cy="288.5" r="2.7"/><circle cx="110.00" cy="288.5" r="2.7"/><circle cx="115.00" cy="289.8" r="2.7"/><circle cx="118.30" cy="289.8" r="2.7"/><circle cx="121.60" cy="289.8" r="2.7"/><circle cx="124.00" cy="289.8" r="2.7"/><circle cx="128.50" cy="289.8" r="2.7"/><circle cx="133.00" cy="289.8" r="2.7"/><circle cx="140.00" cy="289.8" r="2.7"/><circle cx="142.00" cy="289.8" r="2.7"/><circle cx="149.50" cy="289.8" r="2.7"/><circle cx="152.75" cy="289.8" r="2.7"/><circle cx="156.00" cy="289.8" r="2.7"/><circle cx="163.00" cy="289.8" r="2.7"/><circle cx="168.00" cy="289.8" r="2.7"/><circle cx="70.6" cy="287.0" r="2.7"/><circle cx="139.9" cy="285.0" r="2.7"/><circle cx="149.5" cy="285.0" r="2.7"/><circle cx="169.9" cy="283.5" r="2.7"/></g>
<path d="M49.8,289.9 L80.0,290.2 L110.0,289.6 L140.0,288.3 L170.0,285.6 L170.0,292.4 L140.0,291.9 L110.0,292.4 L80.0,293.4 L49.8,294.9Z" fill="#999" fill-opacity="0.4"/>
<path d="M49.8,292.4 L80.0,291.8 L110.0,291.0 L140.0,290.1 L170.0,289.0" fill="none" stroke="#ec1c24" stroke-width="2.5"/>
<path d="M44.5,300.5 L44.5,161.4 M176.0,161.4 L176.0,300.5 M43.9,300.5 L176.6,300.5" fill="none" stroke="#777777" stroke-width="1.3"/>
<line x1="45.1" y1="162.0" x2="175.4" y2="162.0" stroke="#909090" stroke-width="1.3"/>
<line x1="43.9" y1="182.2" x2="176.6" y2="182.2" stroke="#333" stroke-width="1.6"/>
<line x1="41.1" y1="292.6" x2="44.0" y2="292.6" stroke="#333" stroke-width="1.2"/>
<text x="37.9" y="296.5" font-size="10.8" text-anchor="end" fill="#3d3d3d">0.00</text>
<line x1="41.1" y1="271.1" x2="44.0" y2="271.1" stroke="#333" stroke-width="1.2"/>
<text x="37.9" y="275.0" font-size="10.8" text-anchor="end" fill="#3d3d3d">0.05</text>
<line x1="41.1" y1="249.7" x2="44.0" y2="249.7" stroke="#333" stroke-width="1.2"/>
<text x="37.9" y="253.6" font-size="10.8" text-anchor="end" fill="#3d3d3d">0.10</text>
<line x1="41.1" y1="228.2" x2="44.0" y2="228.2" stroke="#333" stroke-width="1.2"/>
<text x="37.9" y="232.1" font-size="10.8" text-anchor="end" fill="#3d3d3d">0.15</text>
<line x1="41.1" y1="206.8" x2="44.0" y2="206.8" stroke="#333" stroke-width="1.2"/>
<text x="37.9" y="210.7" font-size="10.8" text-anchor="end" fill="#3d3d3d">0.20</text>
<line x1="41.1" y1="185.3" x2="44.0" y2="185.3" stroke="#333" stroke-width="1.2"/>
<text x="37.9" y="189.2" font-size="10.8" text-anchor="end" fill="#3d3d3d">0.25</text>
<line x1="49.6" y1="301.0" x2="49.6" y2="304.1" stroke="#333" stroke-width="1.2"/>
<text x="49.6" y="314.1" font-size="10.8" text-anchor="middle" fill="#3d3d3d">0.00</text>
<line x1="79.8" y1="301.0" x2="79.8" y2="304.1" stroke="#333" stroke-width="1.2"/>
<text x="79.8" y="314.1" font-size="10.8" text-anchor="middle" fill="#3d3d3d">0.25</text>
<line x1="110.0" y1="301.0" x2="110.0" y2="304.1" stroke="#333" stroke-width="1.2"/>
<text x="110.0" y="314.1" font-size="10.8" text-anchor="middle" fill="#3d3d3d">0.50</text>
<line x1="140.2" y1="301.0" x2="140.2" y2="304.1" stroke="#333" stroke-width="1.2"/>
<text x="140.2" y="314.1" font-size="10.8" text-anchor="middle" fill="#3d3d3d">0.75</text>
<line x1="170.4" y1="301.0" x2="170.4" y2="304.1" stroke="#333" stroke-width="1.2"/>
<text x="170.4" y="314.1" font-size="10.8" text-anchor="middle" fill="#3d3d3d">1.00</text>
<text x="282.2" y="176.3" font-size="11" text-anchor="middle" fill="#000">CD8+ T cells</text>
<g fill="#000"><circle cx="327.7" cy="187.4" r="2.7"/><circle cx="242.4" cy="238.0" r="2.7"/><circle cx="259.4" cy="239.5" r="2.7"/><circle cx="259.4" cy="246.9" r="2.7"/><circle cx="252.0" cy="264.3" r="2.7"/><circle cx="261.5" cy="262.8" r="2.7"/><circle cx="261.5" cy="269.1" r="2.7"/><circle cx="221.9" cy="273.8" r="2.7"/><circle cx="275.2" cy="280.8" r="2.7"/><circle cx="280.5" cy="275.5" r="2.7"/><circle cx="280.5" cy="281.8" r="2.7"/><circle cx="274.8" cy="289.2" r="2.7"/><circle cx="304.8" cy="257.5" r="2.7"/><circle cx="312.3" cy="264.3" r="2.7"/><circle cx="321.8" cy="264.9" r="2.7"/><circle cx="332.8" cy="263.8" r="2.7"/><circle cx="342.3" cy="267.7" r="2.7"/><circle cx="302.5" cy="270.8" r="2.7"/><circle cx="312.3" cy="271.7" r="2.7"/><circle cx="289.4" cy="279.7" r="2.7"/><circle cx="302.5" cy="280.8" r="2.7"/><circle cx="321.8" cy="274.40" r="2.7"/><circle cx="321.8" cy="278.65" r="2.7"/><circle cx="321.8" cy="282.90" r="2.7"/><circle cx="327.5" cy="274.4" r="2.7"/><circle cx="332.8" cy="275.5" r="2.7"/><circle cx="302.5" cy="286.7" r="2.7"/><circle cx="312.7" cy="287.5" r="2.7"/><circle cx="332.8" cy="286.0" r="2.7"/><circle cx="221.30" cy="293.6" r="2.7"/><circle cx="221.30" cy="293.6" r="2.7"/><circle cx="226.50" cy="293.6" r="2.7"/><circle cx="230.50" cy="293.6" r="2.7"/><circle cx="234.50" cy="293.6" r="2.7"/><circle cx="238.50" cy="293.6" r="2.7"/><circle cx="244.50" cy="293.6" r="2.7"/><circle cx="249.00" cy="293.6" r="2.7"/><circle cx="252.50" cy="293.6" r="2.7"/><circle cx="257.00" cy="293.6" r="2.7"/><circle cx="261.00" cy="293.6" r="2.7"/><circle cx="264.50" cy="293.6" r="2.7"/><circle cx="268.00" cy="293.6" r="2.7"/><circle cx="272.00" cy="293.6" r="2.7"/><circle cx="277.50" cy="293.6" r="2.7"/><circle cx="281.00" cy="293.6" r="2.7"/><circle cx="284.50" cy="293.6" r="2.7"/><circle cx="287.50" cy="293.6" r="2.7"/><circle cx="292.25" cy="293.6" r="2.7"/><circle cx="297.00" cy="293.6" r="2.7"/><circle cx="300.00" cy="293.6" r="2.7"/><circle cx="303.75" cy="293.6" r="2.7"/><circle cx="307.50" cy="293.6" r="2.7"/><circle cx="311.00" cy="293.6" r="2.7"/><circle cx="313.50" cy="293.6" r="2.7"/><circle cx="320.00" cy="293.6" r="2.7"/><circle cx="324.00" cy="293.6" r="2.7"/><circle cx="327.50" cy="293.6" r="2.7"/><circle cx="332.00" cy="293.6" r="2.7"/><circle cx="336.50" cy="293.6" r="2.7"/><circle cx="340.00" cy="293.6" r="2.7"/><circle cx="344.00" cy="293.6" r="2.7"/></g>
<path d="M221.8,289.6 L232.0,290.0 L242.0,290.2 L252.0,290.2 L262.0,289.9 L272.0,289.5 L282.0,288.9 L292.0,288.1 L302.0,287.1 L312.0,285.9 L322.0,284.4 L332.0,282.7 L342.3,280.7 L342.3,288.3 L332.0,288.9 L322.0,289.6 L312.0,290.3 L302.0,290.9 L292.0,291.5 L282.0,292.1 L272.0,292.7 L262.0,293.1 L252.0,293.6 L242.0,294.0 L232.0,294.4 L221.8,294.8Z" fill="#999" fill-opacity="0.4"/>
<path d="M221.8,292.2 L232.0,292.2 L242.0,292.1 L252.0,291.9 L262.0,291.5 L272.0,291.1 L282.0,290.5 L292.0,289.8 L302.0,289.0 L312.0,288.1 L322.0,287.0 L332.0,285.8 L342.3,284.5" fill="none" stroke="#ec1c24" stroke-width="2.5"/>
<path d="M216.5,300.5 L216.5,161.4 M348.0,161.4 L348.0,300.5 M215.9,300.5 L348.6,300.5" fill="none" stroke="#777777" stroke-width="1.3"/>
<line x1="217.1" y1="162.0" x2="347.4" y2="162.0" stroke="#909090" stroke-width="1.3"/>
<line x1="215.9" y1="182.2" x2="348.6" y2="182.2" stroke="#333" stroke-width="1.6"/>
<line x1="213.1" y1="293.8" x2="216.0" y2="293.8" stroke="#333" stroke-width="1.2"/>
<text x="209.9" y="297.7" font-size="10.8" text-anchor="end" fill="#3d3d3d">0.000</text>
<line x1="213.1" y1="267.9" x2="216.0" y2="267.9" stroke="#333" stroke-width="1.2"/>
<text x="209.9" y="271.8" font-size="10.8" text-anchor="end" fill="#3d3d3d">0.025</text>
<line x1="213.1" y1="242.0" x2="216.0" y2="242.0" stroke="#333" stroke-width="1.2"/>
<text x="209.9" y="245.9" font-size="10.8" text-anchor="end" fill="#3d3d3d">0.050</text>
<line x1="213.1" y1="216.1" x2="216.0" y2="216.1" stroke="#333" stroke-width="1.2"/>
<text x="209.9" y="220.0" font-size="10.8" text-anchor="end" fill="#3d3d3d">0.075</text>
<line x1="213.1" y1="190.2" x2="216.0" y2="190.2" stroke="#333" stroke-width="1.2"/>
<text x="209.9" y="194.1" font-size="10.8" text-anchor="end" fill="#3d3d3d">0.100</text>
<line x1="221.6" y1="301.0" x2="221.6" y2="304.1" stroke="#333" stroke-width="1.2"/>
<text x="221.6" y="314.1" font-size="10.8" text-anchor="middle" fill="#3d3d3d">0.00</text>
<line x1="251.8" y1="301.0" x2="251.8" y2="304.1" stroke="#333" stroke-width="1.2"/>
<text x="251.8" y="314.1" font-size="10.8" text-anchor="middle" fill="#3d3d3d">0.25</text>
<line x1="282.0" y1="301.0" x2="282.0" y2="304.1" stroke="#333" stroke-width="1.2"/>
<text x="282.0" y="314.1" font-size="10.8" text-anchor="middle" fill="#3d3d3d">0.50</text>
<line x1="312.2" y1="301.0" x2="312.2" y2="304.1" stroke="#333" stroke-width="1.2"/>
<text x="312.2" y="314.1" font-size="10.8" text-anchor="middle" fill="#3d3d3d">0.75</text>
<line x1="342.4" y1="301.0" x2="342.4" y2="304.1" stroke="#333" stroke-width="1.2"/>
<text x="342.4" y="314.1" font-size="10.8" text-anchor="middle" fill="#3d3d3d">1.00</text>
<text x="454.2" y="176.3" font-size="11" text-anchor="middle" fill="#000">Dendritic cells</text>
<g fill="#000"><circle cx="414.0" cy="187.4" r="2.7"/><circle cx="474.3" cy="222.3" r="2.7"/><circle cx="493.6" cy="225.5" r="2.7"/><circle cx="433.3" cy="238.0" r="2.7"/><circle cx="433.7" cy="260.6" r="2.7"/><circle cx="433.7" cy="268.7" r="2.7"/><circle cx="454.0" cy="255.1" r="2.7"/><circle cx="474.6" cy="272.5" r="2.7"/><circle cx="484.2" cy="272.5" r="2.7"/><circle cx="461.5" cy="275.7" r="2.7"/><circle cx="454.6" cy="278.1" r="2.7"/><circle cx="454.6" cy="283.6" r="2.7"/><circle cx="444.3" cy="283.0" r="2.7"/><circle cx="394.0" cy="275.70" r="2.7"/><circle cx="394.0" cy="279.77" r="2.7"/><circle cx="394.0" cy="283.85" r="2.7"/><circle cx="394.0" cy="287.93" r="2.7"/><circle cx="394.0" cy="292.00" r="2.7"/><circle cx="403.1" cy="283.6" r="2.7"/><circle cx="400.7" cy="285.4" r="2.7"/><circle cx="484.2" cy="286.6" r="2.7"/><circle cx="514.5" cy="285.40" r="2.7"/><circle cx="514.5" cy="291.40" r="2.7"/><circle cx="399.50" cy="292.5" r="2.7"/><circle cx="403.25" cy="292.5" r="2.7"/><circle cx="407.00" cy="292.5" r="2.7"/><circle cx="411.50" cy="292.5" r="2.7"/><circle cx="417.50" cy="292.5" r="2.7"/><circle cx="422.00" cy="292.5" r="2.7"/><circle cx="426.50" cy="292.5" r="2.7"/><circle cx="430.50" cy="292.5" r="2.7"/><circle cx="433.50" cy="292.5" r="2.7"/><circle cx="438.00" cy="292.5" r="2.7"/><circle cx="442.00" cy="292.5" r="2.7"/><circle cx="444.00" cy="292.5" r="2.7"/><circle cx="447.50" cy="292.5" r="2.7"/><circle cx="451.00" cy="292.5" r="2.7"/><circle cx="455.00" cy="292.5" r="2.7"/><circle cx="458.00" cy="292.5" r="2.7"/><circle cx="463.50" cy="292.5" r="2.7"/><circle cx="465.00" cy="292.5" r="2.7"/><circle cx="471.00" cy="292.5" r="2.7"/><circle cx="473.50" cy="292.5" r="2.7"/><circle cx="478.00" cy="292.5" r="2.7"/><circle cx="482.00" cy="292.5" r="2.7"/><circle cx="485.50" cy="292.5" r="2.7"/><circle cx="491.50" cy="292.5" r="2.7"/><circle cx="496.00" cy="292.5" r="2.7"/><circle cx="497.50" cy="292.5" r="2.7"/><circle cx="502.00" cy="292.5" r="2.7"/><circle cx="504.00" cy="292.5" r="2.7"/><circle cx="508.50" cy="292.5" r="2.7"/><circle cx="512.00" cy="292.5" r="2.7"/><circle cx="516.00" cy="292.5" r="2.7"/></g>
<path d="M394.0,287.5 L424.0,288.5 L454.0,288.7 L484.0,288.5 L514.5,287.4 L514.5,293.0 L484.0,291.7 L454.0,291.3 L424.0,291.5 L394.0,292.5Z" fill="#999" fill-opacity="0.4"/>
<path d="M394.0,290.0 L424.0,290.0 L454.0,290.0 L484.0,290.1 L514.5,290.2" fill="none" stroke="#ec1c24" stroke-width="2.5"/>
<path d="M388.5,300.5 L388.5,161.4 M520.0,161.4 L520.0,300.5 M387.9,300.5 L520.6,300.5" fill="none" stroke="#777777" stroke-width="1.3"/>
<line x1="389.1" y1="162.0" x2="519.4" y2="162.0" stroke="#909090" stroke-width="1.3"/>
<line x1="387.9" y1="182.2" x2="520.6" y2="182.2" stroke="#333" stroke-width="1.6"/>
<line x1="385.1" y1="292.4" x2="388.0" y2="292.4" stroke="#333" stroke-width="1.2"/>
<text x="381.9" y="296.3" font-size="10.8" text-anchor="end" fill="#3d3d3d">0.000</text>
<line x1="385.1" y1="265.6" x2="388.0" y2="265.6" stroke="#333" stroke-width="1.2"/>
<text x="381.9" y="269.4" font-size="10.8" text-anchor="end" fill="#3d3d3d">0.025</text>
<line x1="385.1" y1="238.7" x2="388.0" y2="238.7" stroke="#333" stroke-width="1.2"/>
<text x="381.9" y="242.6" font-size="10.8" text-anchor="end" fill="#3d3d3d">0.050</text>
<line x1="385.1" y1="211.8" x2="388.0" y2="211.8" stroke="#333" stroke-width="1.2"/>
<text x="381.9" y="215.8" font-size="10.8" text-anchor="end" fill="#3d3d3d">0.075</text>
<line x1="385.1" y1="185.0" x2="388.0" y2="185.0" stroke="#333" stroke-width="1.2"/>
<text x="381.9" y="188.9" font-size="10.8" text-anchor="end" fill="#3d3d3d">0.100</text>
<line x1="393.6" y1="301.0" x2="393.6" y2="304.1" stroke="#333" stroke-width="1.2"/>
<text x="393.6" y="314.1" font-size="10.8" text-anchor="middle" fill="#3d3d3d">0.00</text>
<line x1="423.8" y1="301.0" x2="423.8" y2="304.1" stroke="#333" stroke-width="1.2"/>
<text x="423.8" y="314.1" font-size="10.8" text-anchor="middle" fill="#3d3d3d">0.25</text>
<line x1="454.0" y1="301.0" x2="454.0" y2="304.1" stroke="#333" stroke-width="1.2"/>
<text x="454.0" y="314.1" font-size="10.8" text-anchor="middle" fill="#3d3d3d">0.50</text>
<line x1="484.2" y1="301.0" x2="484.2" y2="304.1" stroke="#333" stroke-width="1.2"/>
<text x="484.2" y="314.1" font-size="10.8" text-anchor="middle" fill="#3d3d3d">0.75</text>
<line x1="514.4" y1="301.0" x2="514.4" y2="304.1" stroke="#333" stroke-width="1.2"/>
<text x="514.4" y="314.1" font-size="10.8" text-anchor="middle" fill="#3d3d3d">1.00</text>
<text x="614.2" y="176.3" font-size="11" text-anchor="middle" fill="#000">Epithelial <tspan font-style="italic">HK2</tspan></text>
<g fill="#000"><circle cx="653.6" cy="187.4" r="2.7"/><circle cx="554.0" cy="216.5" r="2.7"/><circle cx="583.9" cy="209.4" r="2.7"/><circle cx="590.9" cy="203.4" r="2.7"/><circle cx="590.9" cy="214.6" r="2.7"/><circle cx="576.8" cy="220.3" r="2.7"/><circle cx="576.8" cy="226.2" r="2.7"/><circle cx="583.9" cy="225.7" r="2.7"/><circle cx="604.5" cy="205.6" r="2.7"/><circle cx="607.2" cy="204.5" r="2.7"/><circle cx="614.3" cy="202.0" r="2.7"/><circle cx="604.5" cy="211.8" r="2.7"/><circle cx="614.3" cy="210.7" r="2.7"/><circle cx="623.7" cy="208.5" r="2.7"/><circle cx="633.8" cy="206.3" r="2.7"/><circle cx="599.6" cy="221.1" r="2.7"/><circle cx="604.5" cy="221.9" r="2.7"/><circle cx="599.6" cy="226.8" r="2.7"/><circle cx="614.3" cy="224.4" r="2.7"/><circle cx="644.2" cy="207.8" r="2.7"/><circle cx="659.9" cy="213.7" r="2.7"/><circle cx="653.6" cy="218.3" r="2.7"/><circle cx="664.5" cy="221.3" r="2.7"/><circle cx="667.0" cy="228.0" r="2.7"/><circle cx="583.9" cy="232.90" r="2.7"/><circle cx="583.9" cy="237.80" r="2.7"/><circle cx="590.4" cy="235.6" r="2.7"/><circle cx="554.0" cy="243.8" r="2.7"/><circle cx="561.0" cy="243.20" r="2.7"/><circle cx="561.0" cy="248.10" r="2.7"/><circle cx="568.1" cy="241.0" r="2.7"/><circle cx="568.1" cy="246.50" r="2.7"/><circle cx="568.1" cy="251.20" r="2.7"/><circle cx="568.1" cy="255.90" r="2.7"/><circle cx="568.1" cy="260.60" r="2.7"/><circle cx="574.1" cy="245.4" r="2.7"/><circle cx="576.8" cy="246.5" r="2.7"/><circle cx="583.9" cy="251.90" r="2.7"/><circle cx="583.9" cy="257.30" r="2.7"/><circle cx="590.4" cy="246.5" r="2.7"/><circle cx="591.5" cy="251.4" r="2.7"/><circle cx="554.0" cy="255.2" r="2.7"/><circle cx="561.0" cy="255.7" r="2.7"/><circle cx="563.2" cy="261.7" r="2.7"/><circle cx="591.5" cy="234.50" r="2.7"/><circle cx="591.5" cy="238.90" r="2.7"/><circle cx="592.0" cy="242.00" r="2.7"/><circle cx="592.0" cy="246.50" r="2.7"/><circle cx="592.0" cy="250.80" r="2.7"/><circle cx="592.0" cy="254.00" r="2.7"/><circle cx="599.6" cy="228.00" r="2.7"/><circle cx="599.6" cy="232.90" r="2.7"/><circle cx="599.6" cy="237.80" r="2.7"/><circle cx="599.6" cy="244.30" r="2.7"/><circle cx="599.6" cy="247.85" r="2.7"/><circle cx="599.6" cy="251.40" r="2.7"/><rect x="602.90" y="247.00" width="3.20" height="6.00"/><circle cx="602.90" cy="247.00" r="2.7"/><circle cx="602.90" cy="253.00" r="2.7"/><circle cx="606.10" cy="247.00" r="2.7"/><circle cx="606.10" cy="253.00" r="2.7"/><circle cx="613.7" cy="237.80" r="2.7"/><circle cx="613.7" cy="242.70" r="2.7"/><circle cx="613.7" cy="248.10" r="2.7"/><circle cx="613.7" cy="251.40" r="2.7"/><circle cx="621.1" cy="243.2" r="2.7"/><circle cx="628.4" cy="235.1" r="2.7"/><circle cx="628.4" cy="243.80" r="2.7"/><circle cx="628.4" cy="248.10" r="2.7"/><circle cx="633.8" cy="232.30" r="2.7"/><circle cx="633.8" cy="237.20" r="2.7"/><circle cx="633.8" cy="242.10" r="2.7"/><circle cx="633.8" cy="249.70" r="2.7"/><circle cx="633.8" cy="253.00" r="2.7"/><circle cx="613.7" cy="258.40" r="2.7"/><circle cx="613.7" cy="264.00" r="2.7"/><circle cx="621.3" cy="260.60" r="2.7"/><circle cx="621.3" cy="264.00" r="2.7"/><circle cx="628.4" cy="257.00" r="2.7"/><circle cx="628.4" cy="260.60" r="2.7"/><circle cx="644.2" cy="230.20" r="2.7"/><circle cx="644.2" cy="233.45" r="2.7"/><circle cx="644.2" cy="236.70" r="2.7"/><circle cx="644.2" cy="241.00" r="2.7"/><circle cx="644.2" cy="244.92" r="2.7"/><circle cx="644.2" cy="248.84" r="2.7"/><circle cx="644.2" cy="252.76" r="2.7"/><circle cx="644.2" cy="256.68" r="2.7"/><circle cx="644.2" cy="260.60" r="2.7"/><circle cx="667.0" cy="229.6" r="2.7"/><circle cx="653.9" cy="240.5" r="2.7"/><circle cx="653.4" cy="247.00" r="2.7"/><circle cx="653.4" cy="253.00" r="2.7"/><circle cx="659.9" cy="248.1" r="2.7"/><circle cx="664.8" cy="254.1" r="2.7"/><circle cx="674.0" cy="242.10" r="2.7"/><circle cx="674.0" cy="246.72" r="2.7"/><circle cx="674.0" cy="251.35" r="2.7"/><circle cx="674.0" cy="255.98" r="2.7"/><circle cx="674.0" cy="260.60" r="2.7"/><circle cx="659.9" cy="256.3" r="2.7"/><circle cx="553.7" cy="263.10" r="2.7"/><circle cx="553.7" cy="267.52" r="2.7"/><circle cx="553.7" cy="271.93" r="2.7"/><circle cx="553.7" cy="276.35" r="2.7"/><circle cx="553.7" cy="280.77" r="2.7"/><circle cx="553.7" cy="285.18" r="2.7"/><circle cx="553.7" cy="289.60" r="2.7"/><circle cx="553.7" cy="295.3" r="2.7"/><circle cx="561.8" cy="272.50" r="2.7"/><circle cx="561.8" cy="277.12" r="2.7"/><circle cx="561.8" cy="281.75" r="2.7"/><circle cx="561.8" cy="286.38" r="2.7"/><circle cx="561.8" cy="291.00" r="2.7"/><circle cx="565.2" cy="269.00" r="2.7"/><circle cx="565.2" cy="273.00" r="2.7"/><circle cx="565.2" cy="277.00" r="2.7"/><circle cx="565.2" cy="281.00" r="2.7"/><circle cx="565.2" cy="285.00" r="2.7"/><circle cx="567.5" cy="262.00" r="2.7"/><circle cx="567.5" cy="265.00" r="2.7"/><circle cx="567.5" cy="271.00" r="2.7"/><circle cx="567.5" cy="274.67" r="2.7"/><circle cx="567.5" cy="278.33" r="2.7"/><circle cx="567.5" cy="282.00" r="2.7"/><circle cx="564.1" cy="263.0" r="2.7"/><circle cx="568.7" cy="294.8" r="2.7"/><circle cx="575.0" cy="273.50" r="2.7"/><circle cx="575.0" cy="278.10" r="2.7"/><circle cx="575.0" cy="282.70" r="2.7"/><circle cx="576.7" cy="293.0" r="2.7"/><circle cx="574.4" cy="267.7" r="2.7"/><circle cx="583.6" cy="265.4" r="2.7"/><circle cx="583.6" cy="271.2" r="2.7"/><circle cx="583.6" cy="282.70" r="2.7"/><circle cx="583.6" cy="287.30" r="2.7"/><circle cx="583.6" cy="291.3" r="2.7"/><circle cx="590.5" cy="272.30" r="2.7"/><circle cx="590.5" cy="278.00" r="2.7"/><circle cx="593.1" cy="270.00" r="2.7"/><circle cx="593.1" cy="274.60" r="2.7"/><circle cx="593.1" cy="279.20" r="2.7"/><circle cx="593.1" cy="283.80" r="2.7"/><circle cx="599.5" cy="265.40" r="2.7"/><circle cx="599.5" cy="269.45" r="2.7"/><circle cx="599.5" cy="273.50" r="2.7"/><circle cx="599.5" cy="275.80" r="2.7"/><circle cx="599.5" cy="280.95" r="2.7"/><circle cx="599.5" cy="286.10" r="2.7"/><circle cx="604.6" cy="265.40" r="2.7"/><circle cx="604.6" cy="271.20" r="2.7"/><circle cx="606.4" cy="278.10" r="2.7"/><circle cx="606.4" cy="283.25" r="2.7"/><circle cx="606.4" cy="288.40" r="2.7"/><circle cx="614.4" cy="262.00" r="2.7"/><circle cx="614.4" cy="266.60" r="2.7"/><circle cx="614.4" cy="271.20" r="2.7"/><circle cx="614.4" cy="275.80" r="2.7"/><circle cx="614.4" cy="280.40" r="2.7"/><circle cx="614.4" cy="285.00" r="2.7"/><circle cx="621.3" cy="262.00" r="2.7"/><circle cx="621.3" cy="264.00" r="2.7"/><circle cx="621.3" cy="267.70" r="2.7"/><circle cx="621.3" cy="271.93" r="2.7"/><circle cx="621.3" cy="276.17" r="2.7"/><circle cx="621.3" cy="280.40" r="2.7"/><circle cx="625.3" cy="275.5" r="2.7"/><circle cx="628.8" cy="262.00" r="2.7"/><circle cx="628.8" cy="267.70" r="2.7"/><circle cx="628.8" cy="273.50" r="2.7"/><circle cx="628.8" cy="277.80" r="2.7"/><circle cx="628.8" cy="282.10" r="2.7"/><circle cx="628.8" cy="286.40" r="2.7"/><circle cx="628.8" cy="290.70" r="2.7"/><circle cx="635.1" cy="262.00" r="2.7"/><circle cx="635.1" cy="266.40" r="2.7"/><circle cx="635.1" cy="270.80" r="2.7"/><circle cx="635.1" cy="275.20" r="2.7"/><circle cx="635.1" cy="279.60" r="2.7"/><circle cx="635.1" cy="284.00" r="2.7"/><circle cx="635.1" cy="288.40" r="2.7"/><circle cx="644.0" cy="262.00" r="2.7"/><circle cx="644.0" cy="264.00" r="2.7"/><circle cx="644.0" cy="270.00" r="2.7"/><circle cx="644.0" cy="274.05" r="2.7"/><circle cx="644.0" cy="278.10" r="2.7"/><circle cx="644.0" cy="285.0" r="2.7"/><circle cx="644.0" cy="293.6" r="2.7"/><circle cx="653.8" cy="271.20" r="2.7"/><circle cx="653.8" cy="276.35" r="2.7"/><circle cx="653.8" cy="281.50" r="2.7"/><circle cx="653.8" cy="288.4" r="2.7"/><circle cx="659.6" cy="271.80" r="2.7"/><circle cx="659.6" cy="273.50" r="2.7"/><circle cx="664.7" cy="268.90" r="2.7"/><circle cx="664.7" cy="274.05" r="2.7"/><circle cx="664.7" cy="279.20" r="2.7"/><circle cx="667.0" cy="277.0" r="2.7"/><circle cx="664.7" cy="293.0" r="2.7"/><circle cx="674.5" cy="271.20" r="2.7"/><circle cx="674.5" cy="274.60" r="2.7"/></g>
<path d="M554.0,267.1 L564.0,264.0 L574.0,261.6 L583.7,259.2 L592.0,257.2 L603.0,255.4 L614.0,254.3 L625.0,253.7 L636.0,253.9 L645.0,254.3 L655.0,255.0 L665.0,255.7 L674.0,256.2 L674.0,270.2 L665.0,266.1 L655.0,262.8 L645.0,260.5 L636.0,259.3 L625.0,258.7 L614.0,259.3 L603.0,260.6 L592.0,263.0 L583.7,266.0 L574.0,270.0 L564.0,275.0 L554.0,281.1Z" fill="#999" fill-opacity="0.4"/>
<path d="M554.0,274.1 L564.0,269.5 L574.0,265.8 L583.7,262.6 L592.0,260.1 L603.0,258.0 L614.0,256.8 L625.0,256.2 L636.0,256.6 L645.0,257.4 L655.0,258.9 L665.0,260.9 L674.0,263.2" fill="none" stroke="#ec1c24" stroke-width="2.5"/>
<path d="M548.5,300.5 L548.5,161.4 M680.0,161.4 L680.0,300.5 M547.9,300.5 L680.6,300.5" fill="none" stroke="#777777" stroke-width="1.3"/>
<line x1="549.1" y1="162.0" x2="679.4" y2="162.0" stroke="#909090" stroke-width="1.3"/>
<line x1="547.9" y1="182.2" x2="680.6" y2="182.2" stroke="#333" stroke-width="1.6"/>
<line x1="545.1" y1="295.9" x2="548.0" y2="295.9" stroke="#333" stroke-width="1.2"/>
<text x="541.9" y="299.8" font-size="10.8" text-anchor="end" fill="#3d3d3d">0</text>
<line x1="545.1" y1="266.1" x2="548.0" y2="266.1" stroke="#333" stroke-width="1.2"/>
<text x="541.9" y="270.0" font-size="10.8" text-anchor="end" fill="#3d3d3d">3</text>
<line x1="545.1" y1="236.4" x2="548.0" y2="236.4" stroke="#333" stroke-width="1.2"/>
<text x="541.9" y="240.3" font-size="10.8" text-anchor="end" fill="#3d3d3d">6</text>
<line x1="545.1" y1="206.7" x2="548.0" y2="206.7" stroke="#333" stroke-width="1.2"/>
<text x="541.9" y="210.6" font-size="10.8" text-anchor="end" fill="#3d3d3d">9</text>
<line x1="553.6" y1="301.0" x2="553.6" y2="304.1" stroke="#333" stroke-width="1.2"/>
<text x="553.6" y="314.1" font-size="10.8" text-anchor="middle" fill="#3d3d3d">0.00</text>
<line x1="583.8" y1="301.0" x2="583.8" y2="304.1" stroke="#333" stroke-width="1.2"/>
<text x="583.8" y="314.1" font-size="10.8" text-anchor="middle" fill="#3d3d3d">0.25</text>
<line x1="614.0" y1="301.0" x2="614.0" y2="304.1" stroke="#333" stroke-width="1.2"/>
<text x="614.0" y="314.1" font-size="10.8" text-anchor="middle" fill="#3d3d3d">0.50</text>
<line x1="644.2" y1="301.0" x2="644.2" y2="304.1" stroke="#333" stroke-width="1.2"/>
<text x="644.2" y="314.1" font-size="10.8" text-anchor="middle" fill="#3d3d3d">0.75</text>
<line x1="674.4" y1="301.0" x2="674.4" y2="304.1" stroke="#333" stroke-width="1.2"/>
<text x="674.4" y="314.1" font-size="10.8" text-anchor="middle" fill="#3d3d3d">1.00</text>
<text x="46.4" y="123.1" font-size="9.8" text-anchor="start" fill="#111">p &lt; 0.0001</text>
<text x="218.3" y="32.1" font-size="9.8" text-anchor="start" fill="#111">p &lt; 0.0001</text>
<text x="516.5" y="32.0" font-size="9.8" text-anchor="end" fill="#111">p &lt; 0.0001</text>
<text x="551.0" y="32.1" font-size="9.8" text-anchor="start" fill="#111">p = 0.0150</text>
<text x="47.6" y="194.3" font-size="9.8" text-anchor="start" fill="#111">p = 0.0493</text>
<text x="222.0" y="194.3" font-size="9.8" text-anchor="start" fill="#111">p = 0.1612</text>
<text x="517.4" y="194.3" font-size="9.8" text-anchor="end" fill="#111">p = 0.0047</text>
<text x="550.5" y="194.3" font-size="9.8" text-anchor="start" fill="#111">p &lt; 0.0001</text>
<text x="13.0" y="14.7" font-size="16.5" font-weight="bold" fill="#000">A</text>
<text x="524.2" y="175.4" font-size="16.5" font-weight="bold" fill="#000">B</text>
<text x="301.9" y="329.3" font-size="13.2" fill="#000">Inflammation Score</text>
<text transform="translate(10.8,201.5) rotate(-90)" font-size="13.2" fill="#000">Cell poportion (%)</text>
<text transform="translate(533.9,296.6) rotate(-90)" font-size="13.2" fill="#000">TPM / cell ratio (%)</text>
</svg></body></html>
